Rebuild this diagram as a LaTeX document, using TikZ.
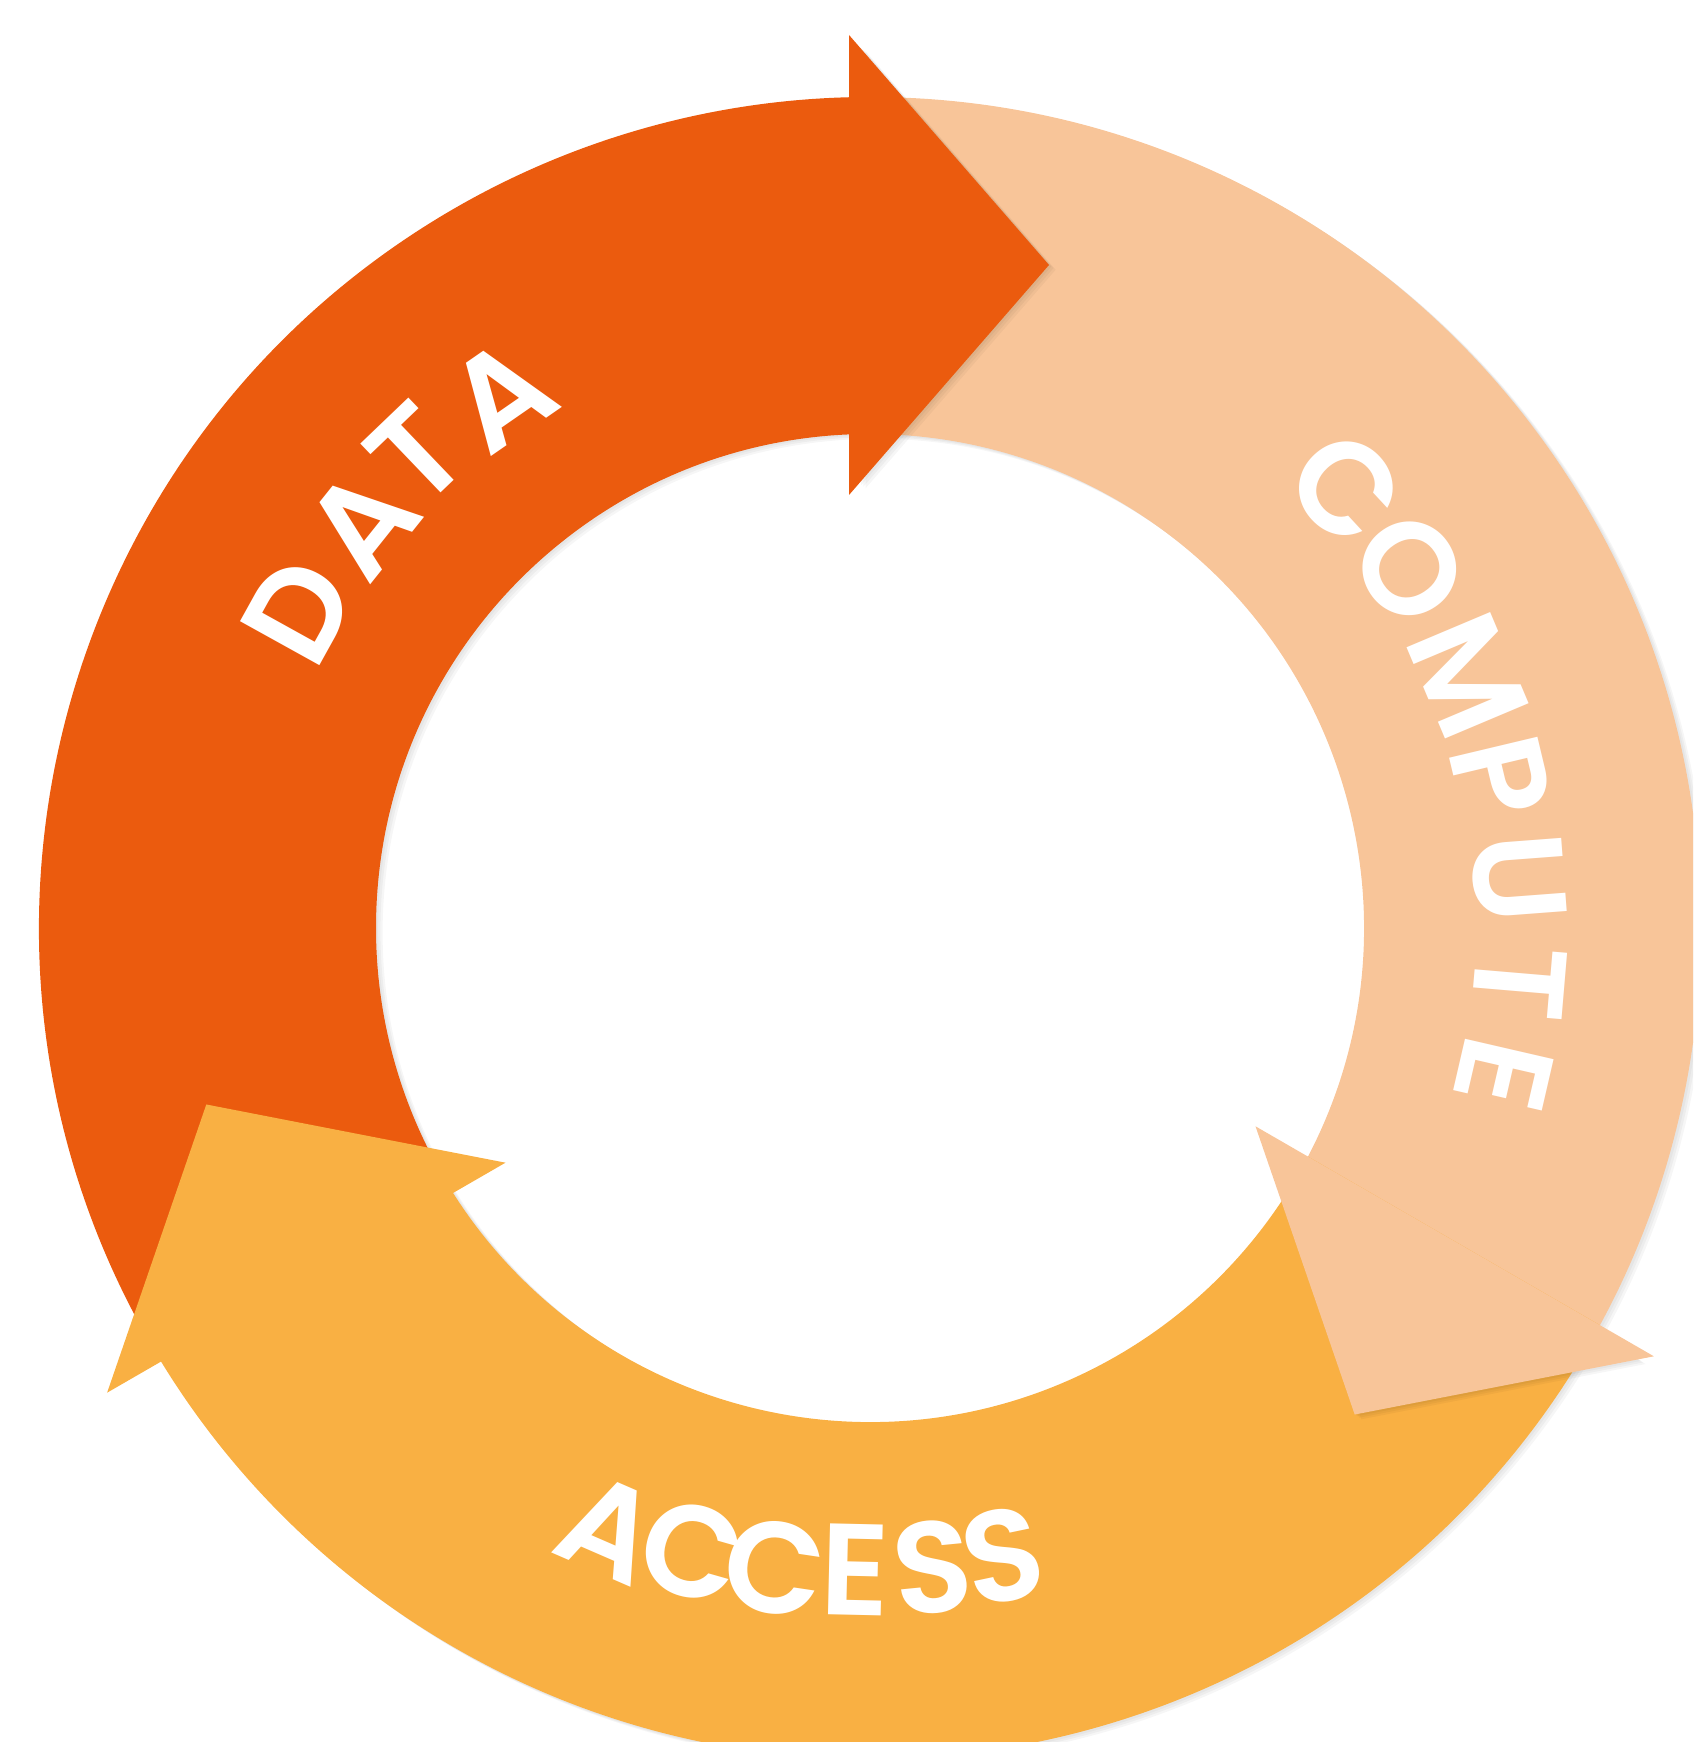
\documentclass[tikz,border=0pt]{standalone}
\usepackage{fontspec}
\newfontfamily\ringfont{Poppins SemiBold}
\definecolor{dataorange}{HTML}{EB5B0E}
\definecolor{computepeach}{HTML}{F8C599}
\definecolor{accessgold}{HTML}{F9B043}

\begin{document}
\begin{tikzpicture}[
    letter/.style={text=white, inner sep=0pt, anchor=center,
        font=\ringfont\fontsize{37pt}{40pt}\selectfont},
    ringshadow/.style={fill=black, opacity=0.035}
    ]
        \useasboundingbox (-8.70,-8.14) rectangle (8.23,9.28);
        \clip (-8.70,-8.14) rectangle (8.23,9.28);

        % soft shadow of the ring
        \foreach \s in {1,2,3}
            \fill[ringshadow, even odd rule, shift={(0.022*\s,-0.016*\s)}]
                (0,0) circle (8.31) (0,0) circle (4.94);

        % ring bodies, one per arrow
        \foreach \rot/\col in {0/dataorange, -120/computepeach, -240/accessgold}
            \fill[\col, rotate=\rot] (212.436:4.94) -- (211.448:8.31)
                arc[start angle=211.448, end angle=88, radius=8.31]
                -- (88:4.94) arc[start angle=88, end angle=212.436, radius=4.94] -- cycle;

        % shadows of the heads (base pulled in, so none falls on the own body)
        \foreach \rot in {0,-120,-240}
            \foreach \s in {1,2,3}
                \fill[ringshadow, shift={(0.022*\s,-0.016*\s)}, rotate=\rot]
                    (-0.11,8.815) -- (1.79,6.63) -- (-0.11,4.445) -- cycle;

        % arrow heads
        \foreach \rot/\col in {0/dataorange, -120/computepeach, -240/accessgold}
            \fill[\col, rotate=\rot] (-0.21,8.93) coordinate (hb_\col)
                -- (1.79,6.63) coordinate (ht_\col) -- (-0.21,4.33) -- cycle;

        % labels
        \foreach \ch/\ang/\rad [count=\i] in {D/151.0/6.54, A/141.4/6.50, T/133.75/6.56, A/124.7/6.49}
            \node[letter, rotate=\ang-90] (data-\i) at (\ang:\rad) {\ch};

        \foreach \ch/\ang/\rad [count=\i] in {C/42.8/6.48, O/33.65/6.48, M/22.87/6.49,
                P/13.4/6.48, U/4.34/6.51, T/-4.84/6.52, E/-13.0/6.51}
            \node[letter, rotate=\ang-90] (compute-\i) at (\ang:\rad) {\ch};

        \foreach \ch/\ang/\rad [count=\i] in {A/246.5/6.55, C/254.1/6.48, C/261.5/6.47,
                E/268.7/6.42, S/275.6/6.42, S/281.9/6.42}
            \node[letter, rotate=\ang+90] (access-\i) at (\ang:\rad) {\ch};
    \end{tikzpicture}
\end{document}
